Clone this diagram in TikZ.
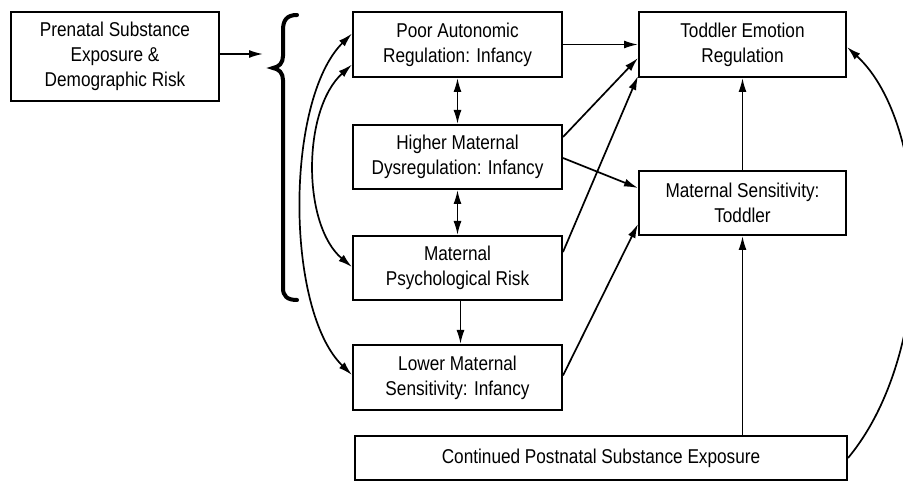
\documentclass[tikz,border=0pt]{standalone}
\usepackage{fontspec}
\setmainfont[FakeStretch=0.86]{Liberation Sans}
\usetikzlibrary{arrows.meta}

\begin{document}
\begin{tikzpicture}[x=1pt, y=-1pt,
        box/.style={draw, line width=2pt, align=center, inner sep=0pt,
            minimum width=209pt, minimum height=65pt,
            font=\fontsize{20}{25}\selectfont},
        link/.style={-{Latex[length=14pt,width=8pt]}, line width=1.7pt},
        twoway/.style={{Latex[length=14pt,width=8pt]}-{Latex[length=14pt,width=8pt]}, line width=1.7pt}]
        \useasboundingbox (0,0) rectangle (903,481);

        % Boxes
        \node[box, minimum width=208pt, minimum height=89pt] (prenatal) at (115,56.5) {Prenatal Substance\\Exposure \&\\Demographic Risk};
        \node[box] (poor) at (457.5,44.5) {Poor Autonomic\\Regulation: Infancy};
        \node[box, minimum height=64pt] (higher) at (457.5,157) {Higher Maternal\\Dysregulation: Infancy};
        \node[box, minimum height=64pt] (psych) at (457.5,268) {Maternal\\Psychological Risk};
        \node[box] (lower) at (457.5,377.5) {Lower Maternal\\Sensitivity: Infancy};
        \node[box, minimum width=207pt] (toddler) at (742.5,44.5) {Toddler Emotion\\Regulation};
        \node[box, minimum width=207pt, minimum height=64pt] (matsens) at (742.5,203) {Maternal Sensitivity:\\Toddler};
        \node[box, minimum width=492pt, minimum height=44pt] (postnatal) at (601,458) {Continued Postnatal Substance Exposure};

        % Brace
        \coordinate (brc) at (263,54);
        \draw[line width=4pt, line cap=round] (297,15) .. controls (287,15) and (283,20) .. (283,30) -- (283,56)
            .. controls (283,63) and (279,67) .. (273,68) .. controls (279,69) and (283,73) .. (283,80)
            -- (283,288) .. controls (283,296) and (287,300) .. (297,300);
        \draw[link] (prenatal.east |- brc) -- (brc);

        % Infancy links
        \draw[twoway] (poor.south) -- (higher.north);
        \draw[twoway] (higher.south) -- (psych.north);
        \draw[link] ([xshift=3pt]psych.south) -- ([xshift=3pt]lower.north);
        \draw[twoway] ([yshift=11pt]poor.west) .. controls (285,100) and (285,310) .. ([yshift=2.5pt]lower.west);
        \draw[twoway] ([yshift=-20pt]poor.west) .. controls (302,110) and (302,225) .. ([yshift=1pt]psych.west);

        % Toddler links
        \draw[link] (poor.east) -- (toddler.west);
        \draw[link] ([yshift=20pt]higher.east) -- ([yshift=20pt]toddler.south west);
        \draw[link] ([yshift=16pt]psych.east) -- ([yshift=2pt]toddler.south west);
        \draw[link] ([yshift=-1pt]higher.east) -- ([yshift=15pt]matsens.west);
        \draw[link] ([yshift=2pt]lower.east) -- ([yshift=12pt]matsens.south west);
        \draw[link] (matsens.north) -- (toddler.south);
        \draw[link] (postnatal.north -| matsens.south) -- (matsens.south);
        \draw[link] (postnatal.east) .. controls (938,350) and (932,125) .. ([yshift=-2.5pt]toddler.east);

\end{tikzpicture}
\end{document}
